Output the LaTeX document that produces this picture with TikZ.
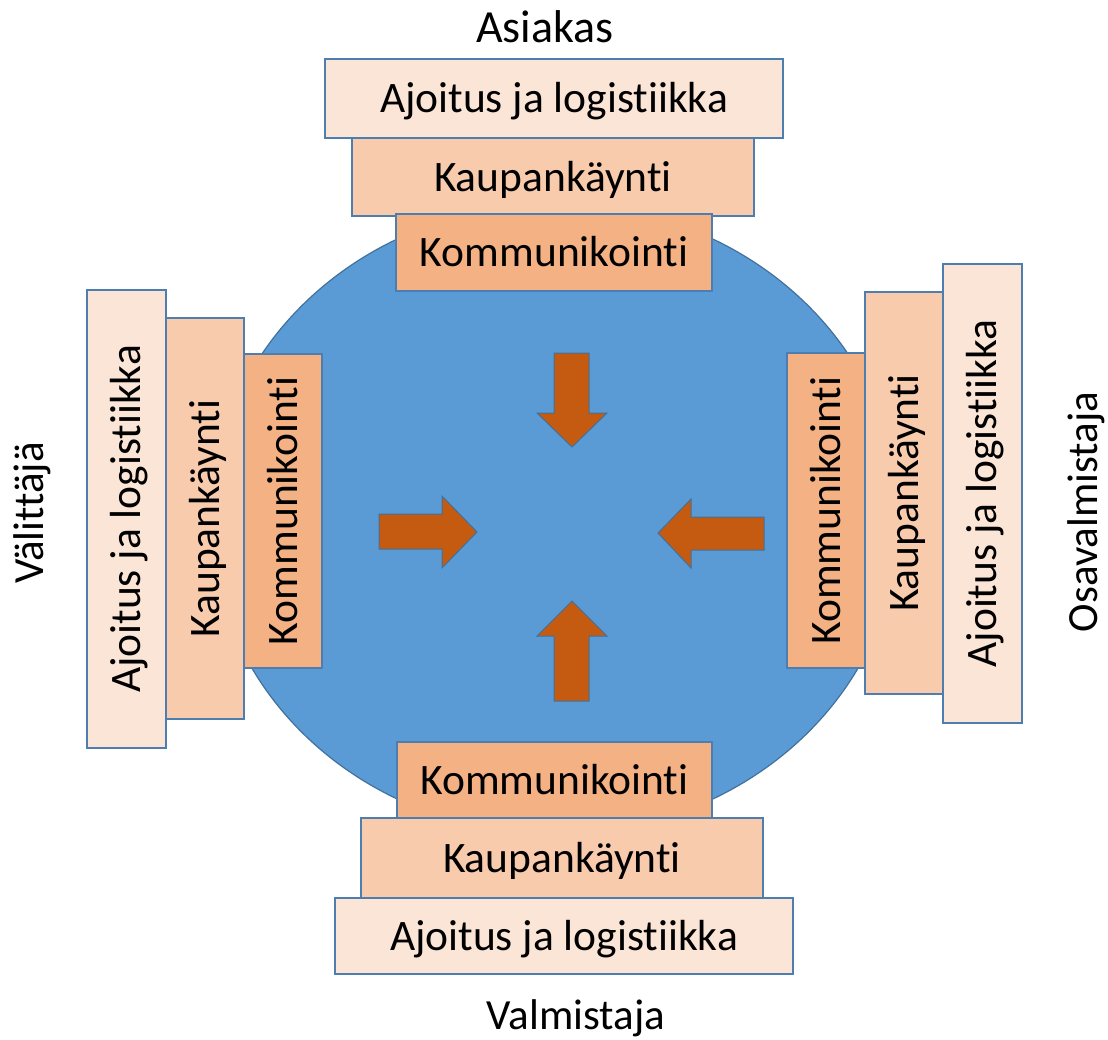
\documentclass[tikz,border=0pt]{standalone}
\usepackage{fontspec}
\setmainfont[Ligatures=NoCommon]{Carlito}
\definecolor{circfill}{HTML}{5B9BD5}
\definecolor{edgeblue}{HTML}{41719C}
\definecolor{boxedge}{HTML}{4E7DB0}
\definecolor{lightbox}{HTML}{FBE5D6}
\definecolor{midbox}{HTML}{F8CBAD}
\definecolor{darkbox}{HTML}{F4B183}
\definecolor{arrowfill}{HTML}{C55A11}
\begin{document}
\begin{tikzpicture}[x=1pt,y=-1pt,
  txt/.style={font=\fontsize{43.5}{50}\selectfont, text height=28pt, text depth=0pt, inner sep=0pt},
  layer/.style={txt, draw=boxedge, line width=1.6pt, align=center},
  boxA/.style={layer, fill=lightbox},
  boxK/.style={layer, fill=midbox},
  boxC/.style={layer, fill=darkbox},
  blockarrow/.style={fill=arrowfill, draw=edgeblue, line width=1pt, line join=miter},
  sidelabel/.style={font=\fontsize{43}{50}\selectfont, inner sep=0pt, anchor=base}
]
\useasboundingbox (0,0) rectangle (1108,1039);
\fill[white] (0,0) rectangle (1108,1039);

% central disc
\draw[fill=circfill, draw=edgeblue, line width=1.2pt] (555,519) ellipse [x radius=344, y radius=315];

% arrows
\draw[blockarrow] (554,353) -- (589,353) -- (589,413) -- (607,413) -- (572,447) -- (537,413) -- (554,413) -- cycle;
\draw[blockarrow] (554,701) -- (589,701) -- (589,636) -- (607,636) -- (572,601) -- (537,636) -- (554,636) -- cycle;
\draw[blockarrow] (379,514) -- (442,514) -- (442,496) -- (477,532) -- (442,568) -- (442,549) -- (379,549) -- cycle;
\draw[blockarrow] (764,517) -- (691,517) -- (691,499) -- (658,533) -- (691,568) -- (691,550) -- (764,550) -- cycle;

% top
\node[boxA, minimum width=458pt, minimum height=79pt] (tA) at (554,98.5) {Ajoitus ja logistiikka};
\node[boxK, minimum width=402pt, minimum height=78pt] (tK) at (553,177) {Kaupankäynti};
\node[boxC, minimum width=316pt, minimum height=77pt] (tC) at (554,252.5) {Kommunikointi};

% bottom
\node[boxA, minimum width=458pt, minimum height=76pt] (bA) at (564,936) {Ajoitus ja logistiikka};
\node[boxK, minimum width=402pt, minimum height=80pt] (bK) at (562,858) {Kaupankäynti};
\node[boxC, minimum width=315pt, minimum height=76pt] (bC) at (554.5,780) {Kommunikointi};

% left
\node[boxA, rotate=90, minimum width=458pt, minimum height=79pt] (lA) at (126.5,519) {Ajoitus ja logistiikka};
\node[boxK, rotate=90, minimum width=401pt, minimum height=78pt] (lK) at (205,518.5) {Kaupankäynti};
\node[boxC, rotate=90, minimum width=314pt, minimum height=78pt] (lC) at (283,511) {Kommunikointi};

% right
\node[boxA, rotate=90, minimum width=459pt, minimum height=79pt] (rA) at (982.5,493.5) {Ajoitus ja logistiikka};
\node[boxK, rotate=90, minimum width=402pt, minimum height=78pt] (rK) at (904,493) {Kaupankäynti};
\node[boxC, rotate=90, minimum width=315pt, minimum height=78pt] (rC) at (826,510.5) {Kommunikointi};

% side labels
\node[sidelabel, font=\fontsize{46}{50}\selectfont] (asiakas) at (545,42) {Asiakas};
\node[sidelabel] (valmistaja) at (576,1029) {Valmistaja};
\node[sidelabel, rotate=90] (valittaja) at (43,513) {Välittäjä};
\node[sidelabel, rotate=90] (osavalmistaja) at (1097,512) {Osavalmistaja};
\end{tikzpicture}
\end{document}
